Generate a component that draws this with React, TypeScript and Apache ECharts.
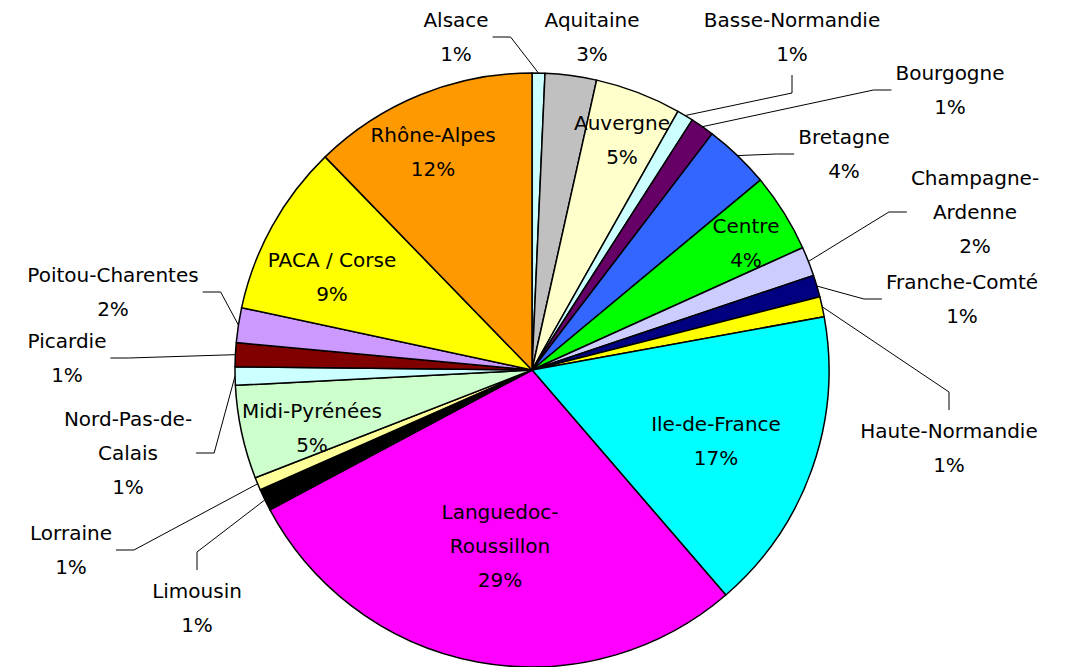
import React, { useEffect, useRef } from "react";
import * as echarts from "echarts";

// Regions in drawing order (clockwise from 12 o'clock)
const regions = [
  "Alsace",
  "Aquitaine",
  "Auvergne",
  "Basse-Normandie",
  "Bourgogne",
  "Bretagne",
  "Centre",
  "Champagne-Ardenne",
  "Franche-Comté",
  "Haute-Normandie",
  "Ile-de-France",
  "Languedoc-Roussillon",
  "Limousin",
  "Lorraine",
  "Midi-Pyrénées",
  "Nord-Pas-de-Calais",
  "Picardie",
  "Poitou-Charentes",
  "PACA / Corse",
  "Rhône-Alpes",
];

// Shares (%)
const shares = [
  0.7, 2.8, 4.7, 0.9, 1.3, 3.6, 4.3, 1.6, 1.2, 1.1, 16.6, 28.6, 1.2, 0.7, 5.1,
  1.0, 1.3, 1.9, 9.4, 12.3,
];

// Percent labels as printed on the chart
const shownPercents = [
  "1%", "3%", "5%", "1%", "1%", "4%", "4%", "2%", "1%", "1%", "17%", "29%",
  "1%", "1%", "5%", "1%", "1%", "2%", "9%", "12%",
];

// Label text (with the line breaks used on the chart)
const labelNames = [
  "Alsace",
  "Aquitaine",
  "Auvergne",
  "Basse-Normandie",
  "Bourgogne",
  "Bretagne",
  "Centre",
  "Champagne-\nArdenne",
  "Franche-Comté",
  "Haute-Normandie",
  "Ile-de-France",
  "Languedoc-\nRoussillon",
  "Limousin",
  "Lorraine",
  "Midi-Pyrénées",
  "Nord-Pas-de-\nCalais",
  "Picardie",
  "Poitou-Charentes",
  "PACA / Corse",
  "Rhône-Alpes",
];

const colors = [
  "#CCFFFF", "#C0C0C0", "#FFFFCC", "#CCFFFF", "#660066", "#3366FF", "#00FF00",
  "#CCCCFF", "#000080", "#FFFF00", "#00FFFF", "#FF00FF", "#000000", "#FFFF99",
  "#CCFFCC", "#CCFFFF", "#800000", "#CC99FF", "#FFFF00", "#FF9900",
];

// Where each label sits and which side its leader line attaches to
const labelSides = [
  "right", "none", "inside", "bottom", "left", "left", "inside", "left",
  "left", "top", "inside", "inside", "top", "right", "inside", "right",
  "right", "right", "inside", "inside",
];

// Label block centres (layout only)
const labelCenters: [number, number][] = [
  [456, 37],
  [592, 37],
  [622, 140],
  [792, 37],
  [950, 90],
  [844, 154],
  [746, 243],
  [975, 212],
  [962, 299],
  [949, 448],
  [716, 441],
  [500, 546],
  [197, 608],
  [71, 550],
  [312, 428],
  [128, 453],
  [67, 358],
  [113, 292],
  [332, 277],
  [433, 152],
];

const STUB = 18;
const GAP = 4;

export default function App() {
  const ref = useRef<HTMLDivElement>(null);

  useEffect(() => {
    const chart = echarts.init(ref.current!, null, { renderer: "svg" });
    const data = regions.map((name, i) => {
      const side = labelSides[i];
      const inside = side === "inside";
      return {
        name,
        value: shares[i],
        itemStyle: { color: colors[i] },
        label: { position: inside ? "inside" : "outside" },
        labelLine: { show: !inside && side !== "none" },
      };
    });
    chart.setOption({
      animation: false,
      backgroundColor: "#ffffff",
      series: [
        {
          type: "pie",
          center: [532, 370],
          radius: 297,
          startAngle: 90,
          clockwise: true,
          avoidLabelOverlap: false,
          data,
          itemStyle: { borderColor: "#000000", borderWidth: 1.5 },
          label: {
            formatter: (p: any) =>
              labelNames[p.dataIndex] + "\n" + shownPercents[p.dataIndex],
            fontFamily: "DejaVu Sans",
            fontSize: 20,
            color: "#000000",
            lineHeight: 34,
            align: "center",
          },
          labelLine: {
            lineStyle: { color: "#000000", width: 1 },
            length: 10,
            length2: 6,
          },
          labelLayout: (params: any) => {
            const i = params.dataIndex;
            const [x, y] = labelCenters[i];
            const out: any = { x, y, align: "center", verticalAlign: "middle" };
            const side = labelSides[i];
            const pts = params.labelLinePoints;
            if (pts && pts.length && side !== "inside" && side !== "none") {
              const w = params.labelRect.width;
              const h = params.labelRect.height;
              let end: number[] = [x, y];
              let bend: number[] = [x, y];
              if (side === "right") {
                end = [x + w / 2 + GAP, y];
                bend = [end[0] + STUB, y];
              } else if (side === "left") {
                end = [x - w / 2 - GAP, y];
                bend = [end[0] - STUB, y];
              } else if (side === "bottom") {
                end = [x, y + h / 2 + GAP];
                bend = [x, end[1] + STUB];
              } else if (side === "top") {
                end = [x, y - h / 2 - GAP];
                bend = [x, end[1] - STUB];
              }
              out.labelLinePoints = [pts[0], bend, end];
            }
            return out;
          },
          emphasis: { disabled: true },
        },
      ],
    });
    return () => chart.dispose();
  }, []);

  return (
    <div
      ref={ref}
      style={{ position: "fixed", left: 0, top: 0, width: 1068, height: 667 }}
    />
  );
}
